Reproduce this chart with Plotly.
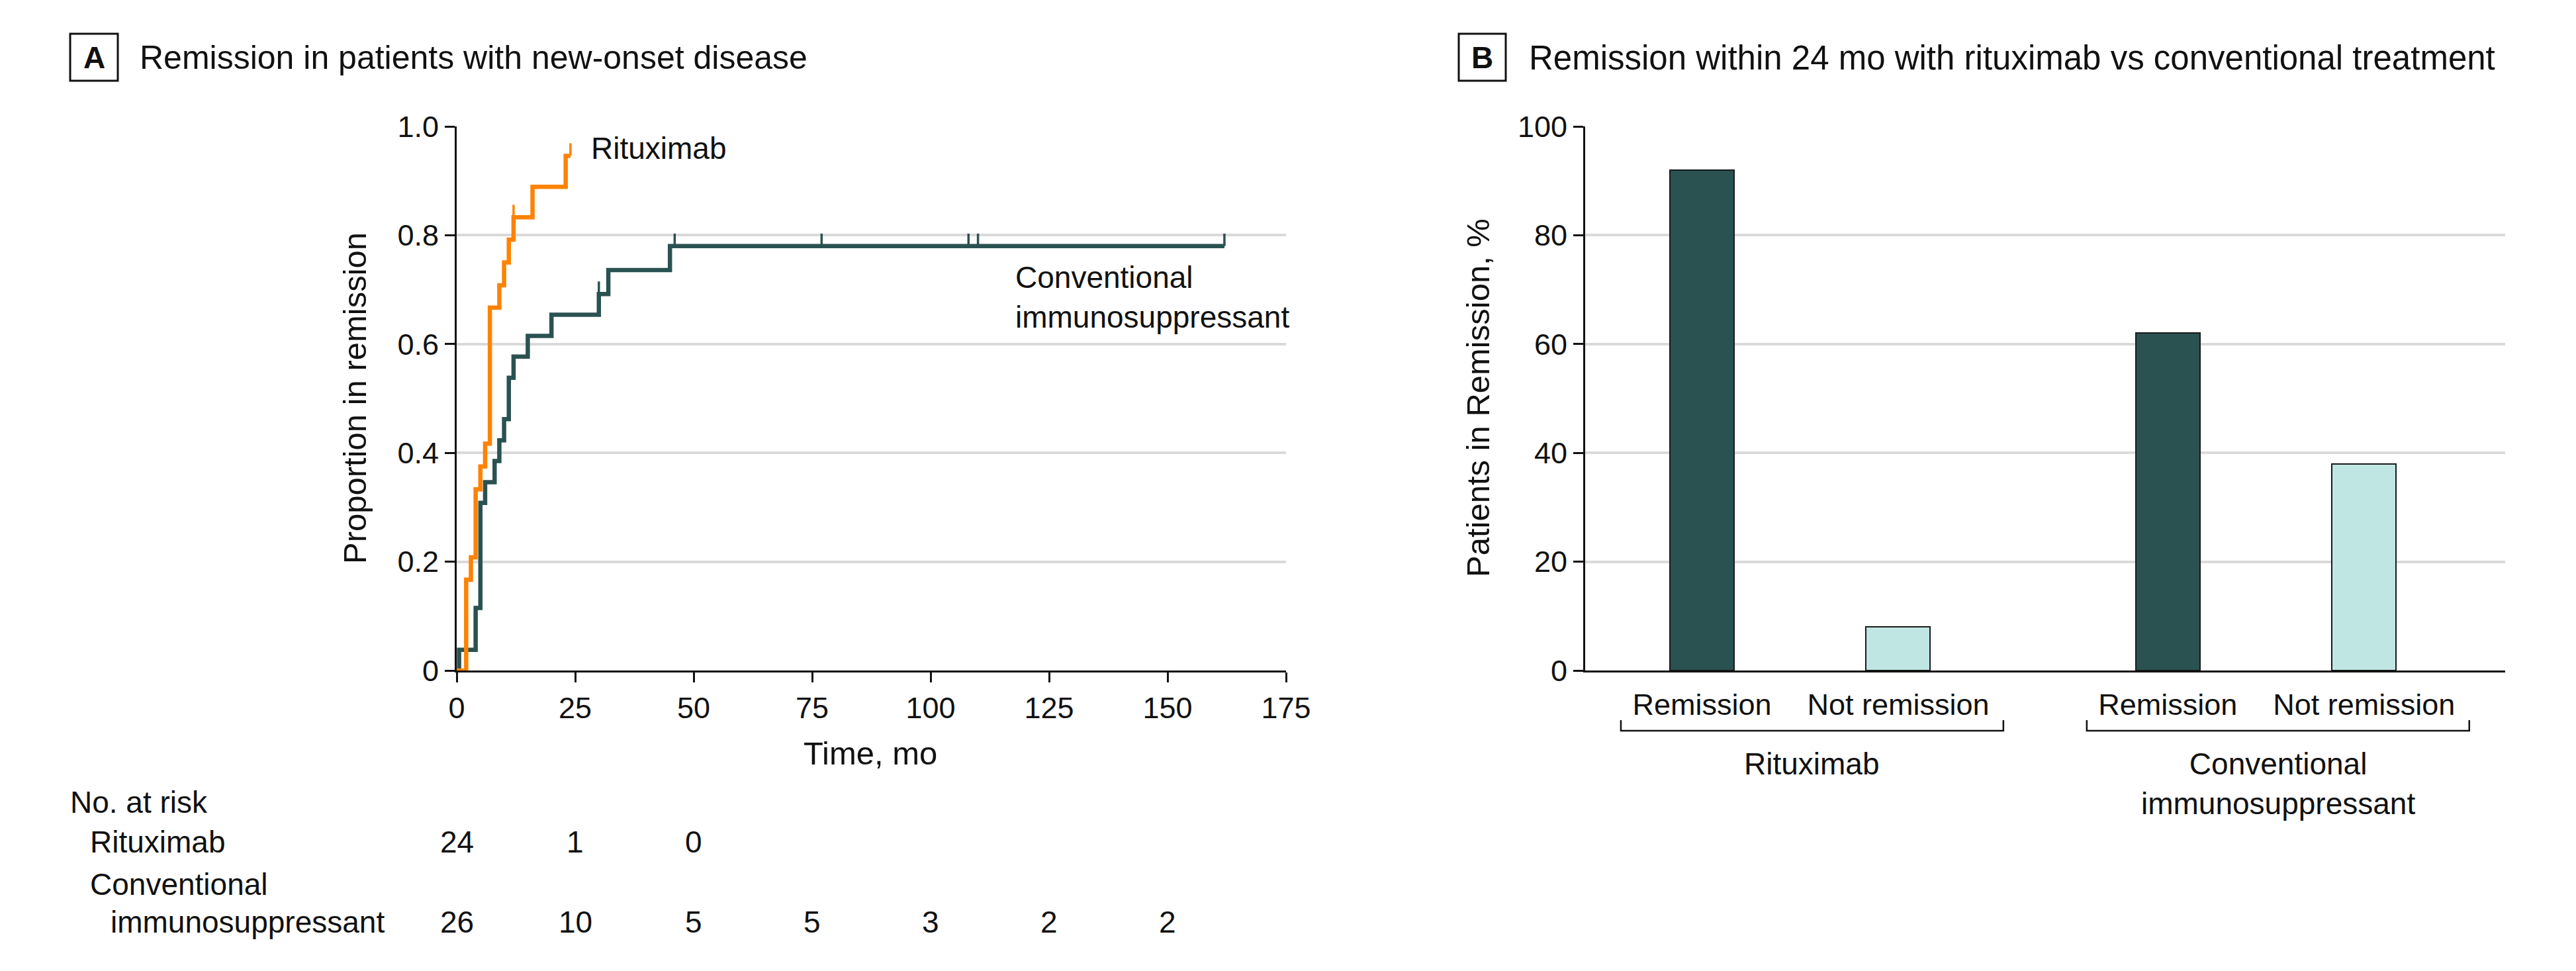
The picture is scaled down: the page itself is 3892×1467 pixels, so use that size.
import plotly.graph_objects as go

# ---------------- Data ----------------
rtx_time = [0, 2, 3, 4, 5, 6, 7, 9, 10, 11, 12, 16, 23, 24]
rtx_prop = [0, 0.167, 0.208, 0.333, 0.375, 0.417, 0.667, 0.708, 0.750, 0.792, 0.833, 0.889, 0.946, 0.946]
rtx_censor = [12, 24]

conv_time = [0, 0.5, 4, 5, 6, 8, 9, 10, 11, 12, 15, 20, 30, 32, 45, 162]
conv_prop = [0, 0.038, 0.115, 0.308, 0.346, 0.385, 0.423, 0.462, 0.538, 0.577, 0.615, 0.654, 0.692, 0.736, 0.780, 0.780]
conv_censor = [30, 46, 77, 108, 110, 162]

x_ticks = [0, 25, 50, 75, 100, 125, 150, 175]
y_ticks = [0, 0.2, 0.4, 0.6, 0.8, 1.0]
y_ticktext = ["0", "0.2", "0.4", "0.6", "0.8", "1.0"]

risk_times = [0, 25, 50, 75, 100, 125, 150]
risk_rtx = [24, 1, 0]
risk_conv = [26, 10, 5, 5, 3, 2, 2]

bar_groups = ["Rituximab", "Conventional<br>immunosuppressant"]
bar_categories = ["Remission", "Not remission"]
bar_values = [[92, 8], [62, 38]]
bar_y_ticks = [0, 20, 40, 60, 80, 100]

# ---------------- Style ----------------
W, H = 3892, 1467
FONT = "Liberation Sans, Arial, sans-serif"
TXT = "#111111"
ORANGE = "#FF8200"
DARK = "#2A5251"
LIGHT = "#C0E6E4"
GRID = "#DADADA"
AXIS = "#111111"
GROUP_GAP = 0.374
BAR_W = 0.327
TICK_UP = 0.023


def px(x):
    return x / W


def py(y):
    return 1 - y / H


def level_at(times, props, t):
    lvl = props[0]
    for tt, pp in zip(times, props):
        if tt <= t:
            lvl = pp
    return lvl


fig = go.Figure()

fig.add_trace(go.Scatter(x=conv_time, y=conv_prop, mode="lines", line=dict(color=DARK, width=6.5, shape="hv"),
                         xaxis="x", yaxis="y", showlegend=False, hoverinfo="skip"))
fig.add_trace(go.Scatter(x=rtx_time, y=rtx_prop, mode="lines", line=dict(color=ORANGE, width=6.5, shape="hv"),
                         xaxis="x", yaxis="y", showlegend=False, hoverinfo="skip"))
for times, props, cens, col in [(conv_time, conv_prop, conv_censor, DARK), (rtx_time, rtx_prop, rtx_censor, ORANGE)]:
    lv = [level_at(times, props, c) for c in cens]
    fig.add_trace(go.Scatter(x=cens, y=lv, mode="markers", marker=dict(size=1, color="rgba(0,0,0,0)"),
                             error_y=dict(type="data", symmetric=False, array=[TICK_UP] * len(cens),
                                          arrayminus=[0] * len(cens), width=0, thickness=3.5, color=col),
                             xaxis="x", yaxis="y", showlegend=False, hoverinfo="skip"))

positions, colors, vals, labels, group_spans = [], [], [], [], []
idx = 0
for g, grp in enumerate(bar_groups):
    start = None
    for c, cat in enumerate(bar_categories):
        p = idx + g * GROUP_GAP
        positions.append(p)
        vals.append(bar_values[g][c])
        labels.append(cat)
        colors.append(DARK if c == 0 else LIGHT)
        if start is None:
            start = p
        end = p
        idx += 1
    group_spans.append((start, end))

fig.add_trace(go.Bar(x=positions, y=vals, width=BAR_W, marker=dict(color=colors, line=dict(color="#1a1a1a", width=2)),
                     xaxis="x2", yaxis="y2", showlegend=False, hoverinfo="skip"))

y_dom = [py(1013), py(191)]
fig.update_layout(
    width=W, height=H, margin=dict(l=0, r=0, t=0, b=0, pad=0, autoexpand=False),
    paper_bgcolor="white", plot_bgcolor="white",
    font=dict(family=FONT, size=45, color=TXT),
    xaxis=dict(domain=[px(690), px(1943)], range=[0, 175], tickvals=x_ticks, ticks="outside", ticklen=15,
               tickwidth=3, tickcolor=AXIS, showline=True, linecolor=AXIS, linewidth=3, showgrid=False,
               zeroline=False, anchor="y", tickfont=dict(size=45), automargin=False),
    yaxis=dict(domain=y_dom, range=[0, 1.0], tickvals=y_ticks, ticktext=y_ticktext, ticks="outside", ticklen=15,
               tickwidth=3, tickcolor=AXIS, showline=True, linecolor=AXIS, linewidth=3, showgrid=True,
               gridcolor=GRID, gridwidth=4, zeroline=False, anchor="x", tickfont=dict(size=45), automargin=False),
    xaxis2=dict(domain=[px(2395), px(3785)], range=[-0.595, 4.093], tickvals=positions, ticktext=labels,
                ticks="outside", ticklen=10, tickcolor="rgba(0,0,0,0)", showline=True, linecolor=AXIS,
                linewidth=3, showgrid=False, zeroline=False, anchor="y2", tickfont=dict(size=45), automargin=False),
    yaxis2=dict(domain=y_dom, range=[0, 100], tickvals=bar_y_ticks, ticks="outside", ticklen=15, tickwidth=3,
                tickcolor=AXIS, showline=True, linecolor=AXIS, linewidth=3, showgrid=True, gridcolor=GRID,
                gridwidth=4, zeroline=False, anchor="x2", tickfont=dict(size=45), automargin=False),
    bargap=0,
)

ann = []
shapes = []


def text(x, y, s, size=46, xanchor="left", yanchor="middle", angle=0, bold=False):
    ann.append(dict(x=x, y=y, xref="paper", yref="paper", text=("<b>%s</b>" % s) if bold else s, showarrow=False,
                    xanchor=xanchor, yanchor=yanchor, textangle=angle, align="left",
                    font=dict(size=size, family=FONT, color=TXT)))


for (x0, x1, letter, tx, title, tsize) in [
        (106, 178, "A", 209, "Remission in patients with new-onset disease", 50),
        (2204, 2275, "B", 2308, "Remission within 24 mo with rituximab vs conventional treatment", 51)]:
    shapes.append(dict(type="rect", xref="paper", yref="paper", x0=px(x0), x1=px(x1), y0=py(122), y1=py(51),
                       line=dict(color=AXIS, width=3)))
    text(px((x0 + x1) / 2), py(87), letter, size=46, xanchor="center", bold=True)
    text(px(tx), py(87), title, size=tsize)

text(px(536), py(602), "Proportion in remission", size=49, xanchor="center", angle=-90)
text(px(1315), py(1138), "Time, mo", size=49, xanchor="center")
text(px(2233), py(601), "Patients in Remission, %", size=49, xanchor="center", angle=-90)

ann.append(dict(x=28.1, y=0.96, xref="x", yref="y", text="Rituximab", showarrow=False, xanchor="left",
                yanchor="middle", font=dict(size=46, family=FONT, color=TXT)))
ann.append(dict(x=117.6, y=0.686, xref="x", yref="y", text="Conventional<br>immunosuppressant", showarrow=False,
                xanchor="left", yanchor="middle", align="left", font=dict(size=46, family=FONT, color=TXT)))

text(px(104), py(1212), "No. at risk", size=46)
text(px(134), py(1272), "Rituximab", size=46)
text(px(134), py(1336), "Conventional", size=46)
text(px(165), py(1393), "immunosuppressant", size=46)
for t, n in zip(risk_times, risk_rtx):
    ann.append(dict(x=t, y=py(1272), xref="x", yref="paper", text=str(n), showarrow=False, xanchor="center",
                    yanchor="middle", font=dict(size=46, family=FONT, color=TXT)))
for t, n in zip(risk_times, risk_conv):
    ann.append(dict(x=t, y=py(1393), xref="x", yref="paper", text=str(n), showarrow=False, xanchor="center",
                    yanchor="middle", font=dict(size=46, family=FONT, color=TXT)))

for (s, e), grp in zip(group_spans, bar_groups):
    bl, br = s - 0.413, e + 0.536
    shapes.append(dict(type="path", xref="x2", yref="paper",
                       path="M %f,%f L %f,%f L %f,%f L %f,%f" % (bl, py(1088), bl, py(1104), br, py(1104), br, py(1088)),
                       line=dict(color=AXIS, width=2.5)))
    ann.append(dict(x=(bl + br) / 2, y=py(1126), xref="x2", yref="paper", text=grp, showarrow=False,
                    xanchor="center", yanchor="top", align="center",
                    font=dict(size=46, family=FONT, color=TXT)))

fig.update_layout(annotations=ann, shapes=shapes)

fig.write_html("out.html", config={"displayModeBar": False},
               post_script="document.body.style.margin='0';document.documentElement.style.overflow='hidden';document.body.style.overflow='hidden';")
